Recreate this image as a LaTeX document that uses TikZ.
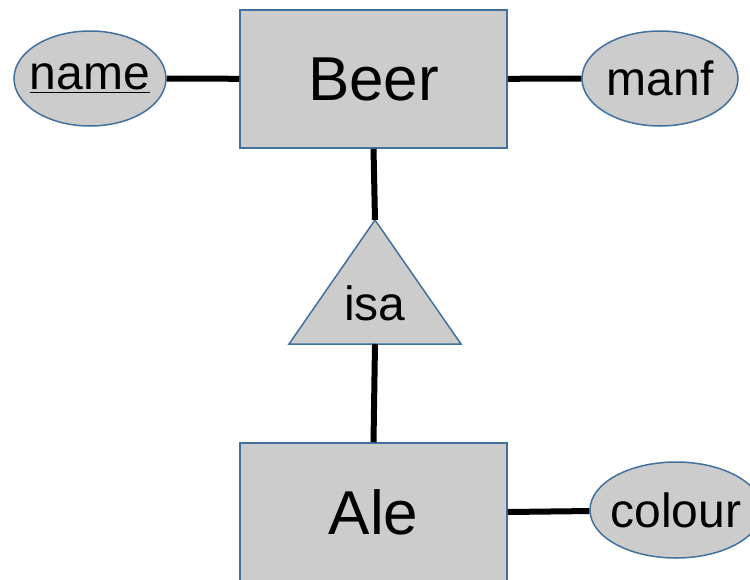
\documentclass[tikz,border=0pt]{standalone}
\usepackage{fontspec}
\setmainfont{Liberation Sans}
\usepackage{tikz}
\usetikzlibrary{shapes.geometric}
\definecolor{erfill}{HTML}{CCCCCC}
\definecolor{erline}{RGB}{65,113,156}

\begin{document}
\begin{tikzpicture}[x=0.5pt,y=-0.5pt,
		entity/.style={draw=erline,fill=erfill,line width=0.75pt,minimum width=133.5pt,minimum height=69pt,inner sep=0pt,font=\fontsize{31}{36}\selectfont},
		attr/.style={ellipse,draw=erline,fill=erfill,line width=0.75pt,inner sep=-8pt,font=\fontsize{24}{28}\selectfont},
		link/.style={line width=3pt}]
		\useasboundingbox (0,0) rectangle (750,579);
		\clip (0,0) rectangle (750,579);
		\node[entity](beer) at (373.5,79) {Beer};
		\node[attr,minimum width=76pt,minimum height=47.5pt](name) at (90,78.5) {\underline{name}};
		\node[attr,minimum width=78pt,minimum height=47.5pt](manf) at (660,78.5) {manf};
		\draw[draw=erline,fill=erfill,line width=0.75pt] (375,220) coordinate(isatop) -- (461,344) -- (289,344) -- cycle;
		\coordinate(isabot) at (375,344);
		\node[font=\fontsize{24}{28}\selectfont](isa) at (375,303) {isa};
		\node[entity](ale) at (373.5,512) {Ale};
		\node[attr,minimum width=86pt,minimum height=48pt](colour) at (676,510) {colour};
		\draw[link] (name) -- (beer);
		\draw[link] (beer) -- (manf);
		\draw[link] (beer.south) -- (isatop);
		\draw[link] (isabot) -- (ale.north);
		\draw[link] (ale.east) -- (colour);
	\end{tikzpicture}
\end{document}
